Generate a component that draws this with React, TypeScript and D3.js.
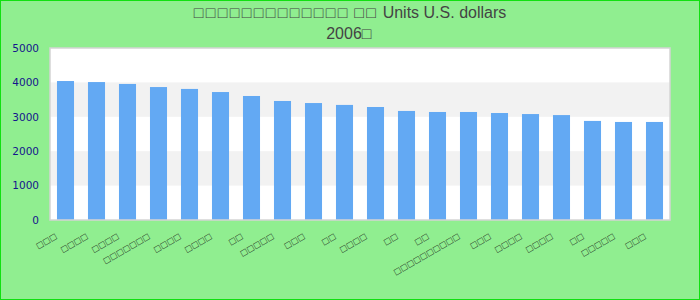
import React from "react";
import * as d3 from "d3";

const categories = [
  "□□□", "□□□□", "□□□□", "□□□□□□□", "□□□□", "□□□□", "□□", "□□□□□", "□□□", "□□",
  "□□□□", "□□", "□□", "□□□□□□□□□□", "□□□", "□□□□", "□□□□", "□□", "□□□□□", "□□□",
];
const values = [
  4040, 4010, 3955, 3865, 3810, 3720, 3605, 3460, 3400, 3345,
  3285, 3170, 3140, 3140, 3110, 3080, 3050, 2880, 2850, 2850,
];
const yTicks = [0, 1000, 2000, 3000, 4000, 5000];
const titleLine1 = "□□□□□□□□□□□□□ □□ Units U.S. dollars";
const titleLine2 = "2006□";

const W = 700;
const H = 300;
const M = { left: 50, right: 30, top: 48, bottom: 80 };

function segments(s: string) {
  const out: { t: string; box: boolean }[] = [];
  const re = /(□+)|([^□]+)/g;
  let m: RegExpExecArray | null;
  while ((m = re.exec(s))) out.push({ t: m[0], box: !!m[1] });
  return out;
}

function BoxText({ s, size, pitch }: { s: string; size: number; pitch: number }) {
  const glyph = size * 0.604;
  return (
    <>
      {segments(s).map((seg, i) => (
        <tspan key={i} letterSpacing={seg.box ? pitch * size - glyph : 0}>
          {seg.t}
        </tspan>
      ))}
    </>
  );
}

export default function App() {
  const x = d3
    .scaleBand<string>()
    .domain(categories.map((c, i) => String(i)))
    .range([M.left, W - M.right])
    .paddingInner(0.45)
    .paddingOuter(0.225);
  const y = d3.scaleLinear().domain([0, 5000]).range([H - M.bottom, M.top]);
  const font = "'Liberation Sans', Arial, sans-serif";

  return (
    <div style={{ position: "fixed", left: 0, top: 0 }}>
      <svg width={W} height={H} style={{ display: "block" }}>
        <rect x={0.5} y={0.5} width={W - 1} height={H - 1} fill="#90EE90" stroke="#11e011" strokeWidth={1} />
        <rect x={M.left} y={M.top} width={W - M.left - M.right} height={H - M.top - M.bottom} fill="#ffffff" />
        {yTicks.slice(0, -1).map((t, i) =>
          i % 2 === 1 ? (
            <rect
              key={"band" + t}
              x={M.left}
              y={y(t + 1000)}
              width={W - M.left - M.right}
              height={y(t) - y(t + 1000)}
              fill="#f2f2f2"
            />
          ) : null
        )}
        {values.map((v, i) => (
          <rect
            key={"bar" + i}
            x={x(String(i))}
            y={y(v)}
            width={x.bandwidth()}
            height={y(0) - y(v)}
            fill="#63a9f3"
          />
        ))}
        <rect
          x={M.left}
          y={M.top}
          width={W - M.left - M.right}
          height={H - M.top - M.bottom}
          fill="none"
          stroke="#d4d4d4"
          strokeWidth={1.5}
        />
        {yTicks.map((t) => (
          <text
            key={"yt" + t}
            x={39}
            y={y(t)}
            dy="0.36em"
            textAnchor="end"
            fontFamily="'DejaVu Sans', sans-serif"
            fontSize={10.5}
            fill="#15158c"
          >
            {t}
          </text>
        ))}
        {categories.map((c, i) => {
          const cx = (x(String(i)) as number) + x.bandwidth() / 2 - 7;
          const cy = 238;
          return (
            <text
              key={"xl" + i}
              x={cx}
              y={cy}
              textAnchor="end"
              transform={`rotate(-30 ${cx} ${cy})`}
              fontFamily={font}
              fontSize={10}
              fill="#111"
            >
              <BoxText s={c} size={10} pitch={0.75} />
            </text>
          );
        })}
        <text x={350} y={17.5} textAnchor="middle" fontFamily={font} fontSize={16} fill="#444">
          <BoxText s={titleLine1} size={16} pitch={0.75} />
        </text>
        <text x={350} y={39} textAnchor="middle" fontFamily={font} fontSize={16} fill="#444">
          <BoxText s={titleLine2} size={16} pitch={0.75} />
        </text>
      </svg>
    </div>
  );
}
